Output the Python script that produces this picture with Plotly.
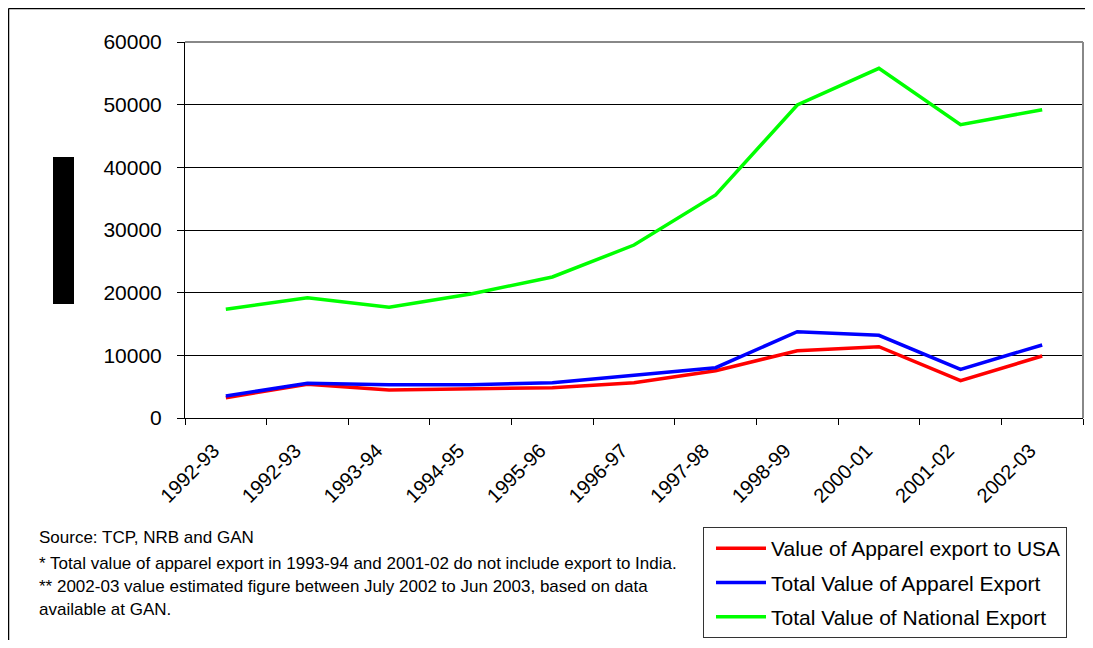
import plotly.graph_objects as go

# Chart data
years = ["1992-93", "1992-93", "1993-94", "1994-95", "1995-96", "1996-97",
         "1997-98", "1998-99", "2000-01", "2001-02", "2002-03"]
apparel_usa = [3240, 5370, 4470, 4680, 4840, 5640, 7550, 10740, 11380, 5960, 9890]
apparel_total = [3510, 5540, 5320, 5300, 5640, 6860, 8030, 13780, 13190, 7770, 11650]
national_total = [17350, 19200, 17660, 19800, 22500, 27600, 35600, 49950, 55800, 46800, 49200]

series_names = ["Value of Apparel export to USA",
                "Total Value of Apparel Export",
                "Total Value of National Export"]
footnotes = ["Source: TCP, NRB and GAN",
             "* Total value of apparel export in 1993-94 and 2001-02 do not include export to India.",
             "** 2002-03 value estimated figure between July 2002 to Jun 2003, based on data",
             "available at GAN."]

# page has an 8px body margin, so work in page pixels and shift
OFF = 8
W, H = 1093 - 2 * OFF, 648 - 2 * OFF
PL, PR, PT, PB = 185, 1083, 42, 418          # plot area in page pixels
L, T = PL - OFF, PT - OFF
R, B = W - (PR - OFF), H - (PB - OFF)
pw, ph = PR - PL, PB - PT

def px_x(x):
    return (x - PL) / pw

def px_y(y):
    return (PB - y) / ph

xs = list(range(len(years)))
FONT = "Liberation Sans, Arial, sans-serif"

fig = go.Figure()
for name, vals, col in zip(series_names,
                           [apparel_usa, apparel_total, national_total],
                           ["#FF0000", "#0000FF", "#00FF00"]):
    fig.add_trace(go.Scatter(x=xs, y=vals, mode="lines", name=name,
                             legendgroup=name,
                             line=dict(color=col, width=3.5)))

fig.update_layout(
    width=W, height=H,
    margin=dict(l=L, r=R, t=T, b=B, autoexpand=False),
    paper_bgcolor="white", plot_bgcolor="white",
    font=dict(family=FONT, color="black"),
    showlegend=True,
    legend=dict(x=px_x(703), y=px_y(527), xanchor="left", yanchor="top",
                bordercolor="#333333", borderwidth=1, bgcolor="white",
                font=dict(size=21, family=FONT), itemwidth=50, indentation=7,
                tracegroupgap=4, traceorder="grouped"),
    xaxis=dict(range=[-0.5, len(years) - 0.5], tickmode="array",
               tickvals=[x - 0.15 for x in xs], ticktext=years, tickangle=-45, ticks="",
               tickfont=dict(size=20), ticklabelstandoff=12,
               showgrid=False, zeroline=False,
               showline=True, linecolor="black", linewidth=1,
               minor=dict(tick0=-0.5, dtick=1, ticks="outside", ticklen=6,
                          tickcolor="black", showgrid=False)),
    yaxis=dict(range=[0, 60000], dtick=10000, tickformat="d",
               tickfont=dict(size=21), ticklabelstandoff=11,
               ticks="outside", ticklen=7, tickcolor="black",
               showgrid=True, gridcolor="black", gridwidth=1,
               zeroline=False, showline=True, linecolor="black", linewidth=1),
)

# plot-area border (top and right, gray)
fig.add_shape(type="line", xref="paper", yref="paper", x0=0, x1=1, y0=1, y1=1,
              line=dict(color="#888888", width=2))
fig.add_shape(type="line", xref="paper", yref="paper", x0=1, x1=1, y0=0, y1=1,
              line=dict(color="#888888", width=2))
# outer chart border (left and top edges)
fig.add_shape(type="line", xref="paper", yref="paper",
              x0=px_x(8.5), x1=px_x(8.5), y0=px_y(648), y1=px_y(8.5),
              line=dict(color="black", width=1.5))
fig.add_shape(type="line", xref="paper", yref="paper",
              x0=px_x(8.5), x1=px_x(1093), y0=px_y(8.5), y1=px_y(8.5),
              line=dict(color="black", width=1.5))
# redacted axis title block
fig.add_shape(type="rect", xref="paper", yref="paper",
              x0=px_x(53), x1=px_x(74), y0=px_y(304), y1=px_y(157),
              fillcolor="black", line=dict(width=0))

for txt, yy in zip(footnotes, [537, 563, 586, 609]):
    fig.add_annotation(text=txt, xref="paper", yref="paper", x=px_x(37), y=px_y(yy),
                       xanchor="left", yanchor="middle", showarrow=False,
                       font=dict(size=17, family=FONT))

fig.write_html("out.html")
